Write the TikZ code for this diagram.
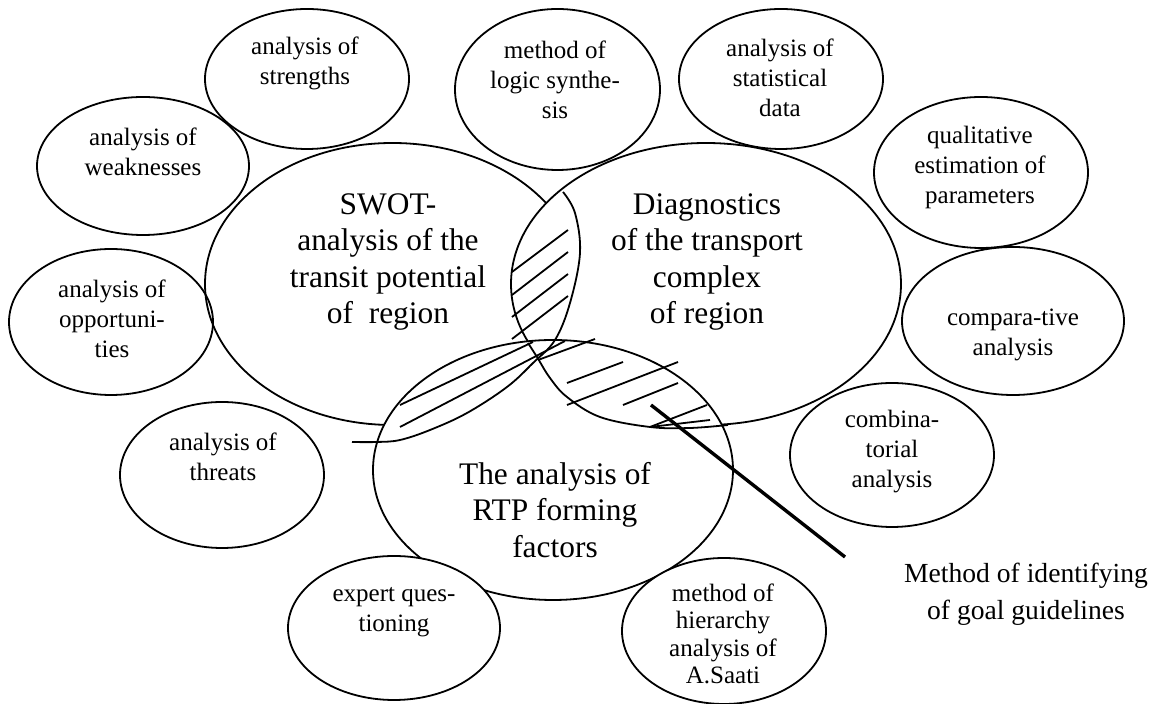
\documentclass[tikz,border=0pt]{standalone}
\usepackage{fontspec}
\setmainfont{Liberation Serif}
\usetikzlibrary{shapes.geometric}
\begin{document}
\begin{tikzpicture}[x=0.5pt,y=-0.5pt,
  ell/.style={ellipse, draw, line width=0.9pt, inner sep=0pt, outer sep=0pt},
  bigell/.style={ell, fill=white},
  stxt/.style={align=center, inner sep=0pt, font=\fontsize{12.5}{15}\selectfont},
  btxt/.style={align=center, inner sep=0pt, font=\fontsize{15.7}{18.3}\selectfont},
  mtxt/.style={align=center, inner sep=0pt, font=\fontsize{13.8}{18.5}\selectfont},
  hatch/.style={line width=0.9pt},
  lensarc/.style={line width=0.9pt},
  pointer/.style={line width=1.7pt}]
\fill[white] (0,0) rectangle (1158,704);
\useasboundingbox (0,0) rectangle (1158,704);

% big ellipses (white filled, Word-like stacking)
\node[bigell, minimum width=187.5pt, minimum height=141pt] (swot) at (392.5,284) {};
\node[bigell, minimum width=195pt, minimum height=141pt] (diag) at (706,284) {};
\node[bigell, minimum width=180pt, minimum height=130pt] (rtp) at (553,470) {};

% small ellipses
\node[ell, minimum width=102pt, minimum height=70pt] (estr) at (307,79) {};
\node[ell, minimum width=106pt, minimum height=69pt] (ewea) at (143,166) {};
\node[ell, minimum width=102.5pt, minimum height=80.5pt] (elog) at (557.5,89.5) {};
\node[ell, minimum width=102pt, minimum height=70pt] (esta) at (781,79) {};
\node[ell, minimum width=107pt, minimum height=75.5pt] (equa) at (981,172.5) {};
\node[ell, minimum width=111pt, minimum height=74pt] (ecmp) at (1013,321) {};
\node[ell, minimum width=102pt, minimum height=72pt] (ecmb) at (892,455) {};
\node[ell, fill=white, minimum width=102pt, minimum height=73pt] (ehie) at (724,631) {};
\node[ell, fill=white, minimum width=106pt, minimum height=72pt] (eexp) at (394,628) {};
\node[ell, minimum width=102pt, minimum height=73pt] (ethr) at (222,475) {};
\node[ell, minimum width=102pt, minimum height=73pt] (eopp) at (111,322) {};

% lens boundaries
\draw[lensarc] plot[smooth, tension=0.6] coordinates {(563,192) (575,213) (580,253) (570,303) (555,340) (533,363) (507,387) (467,413) (430,430) (400,440) (377,442) (352,442)};
\draw[lensarc] plot[smooth, tension=0.6] coordinates {(528,343) (537,357) (550,378) (567,397) (600,417) (650,427) (690,428) (728,425)};

% hatching
\draw[hatch] (512,272) -- (568,230);
\draw[hatch] (512,295) -- (568,252);
\draw[hatch] (512,317) -- (568,274);
\draw[hatch] (512,339) -- (568,296);
\draw[hatch] (400,405) -- (533,342);
\draw[hatch] (400,427) -- (565,341);
\draw[hatch] (538,360) -- (595,339);
\draw[hatch] (567,383) -- (623,362);
\draw[hatch] (567,405) -- (678,362);
\draw[hatch] (623,405) -- (678,383);
\draw[hatch] (650,427) -- (707,405);
\draw[hatch] (650,427) -- (710,420);

% pointer
\coordinate (ms) at (651,405);
\coordinate (me) at (845,557);
\draw[pointer] (ms) -- (me);

% texts
\node[btxt] (tswot) at (388,262) {SWOT-\\analysis of the\\transit potential\\of~~region};
\node[btxt] (tdiag) at (707,262) {Diagnostics\\of the transport\\complex\\of region};
\node[btxt] (trtp) at (555,510) {The analysis of\\RTP forming\\factors};
\node[stxt] (tstr) at (305,63) {analysis of\\strengths};
\node[stxt] (twea) at (143,152) {analysis of\\weaknesses};
\node[stxt] (tlog) at (555,80) {method of\\logic synthe-\\sis};
\node[stxt] (tsta) at (780,78) {analysis of\\statistical\\data};
\node[stxt] (tqua) at (980,167) {qualitative\\estimation of\\parameters};
\node[stxt] (tcmp) at (1013,335) {compara-tive\\analysis};
\node[stxt] (tcmb) at (892,452) {combina-\\torial\\analysis};
\node[stxt, font=\fontsize{12.5}{13.7}\selectfont] (thie) at (723,634) {method of\\hierarchy\\analysis of\\A.Saati};
\node[stxt] (texp) at (394,612) {expert ques-\\tioning};
\node[stxt] (tthr) at (223,457) {analysis of\\threats};
\node[stxt] (topp) at (112,319) {analysis of\\opportuni-\\ties};
\node[mtxt] (tgoal) at (1026,594) {Method of identifying\\of goal guidelines};
\end{tikzpicture}
\end{document}
